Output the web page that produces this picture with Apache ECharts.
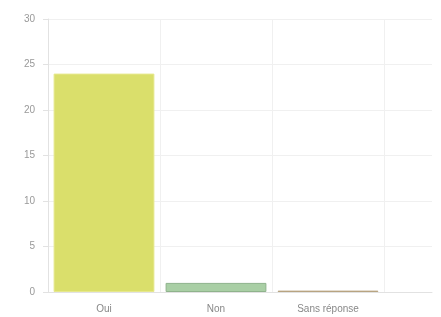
<!DOCTYPE html>
<html>
<head>
<meta charset="utf-8">
<script src="https://cdn.jsdelivr.net/npm/echarts@6/dist/echarts.min.js"></script>
<style>
  html, body { margin: 0; padding: 0; background: #fff; }
  #chart { width: 441px; height: 317px; }
</style>
</head>
<body>
<div id="chart"></div>
<script>
// reponses
const categories = ['Oui', 'Non', 'Sans réponse']
const counts = [24, 1, 0.15]
const barColors = ['#dadf6b', '#a9cfa5', '#cdbf9e']
const borderColors = ['#e6e88c', '#8fb38c', '#b8a582']
const yTicks = { min: 0, max: 30, interval: 5 }

const chart = echarts.init(document.getElementById('chart'))

const labelStyle = {
  color: '#999',
  fontFamily: 'Liberation Sans',
  fontSize: 10,
}

chart.setOption({
  animation: false,
  grid: [
    { left: 48, right: 57, top: 19, bottom: 25 },
    { left: 48, right: 9, top: 19, bottom: 25 },
  ],
  xAxis: [
    {
      type: 'category',
      gridIndex: 0,
      data: categories,
      axisLine: { show: false },
      axisTick: { show: false },
      axisLabel: { ...labelStyle, color: '#888', margin: 12 },
      splitLine: { show: true, lineStyle: { color: '#f0f0f0' } },
    },
    {
      type: 'value',
      gridIndex: 1,
      show: true,
      axisLine: { show: true, onZero: false, lineStyle: { color: '#e2e2e2' } },
      axisTick: { show: false },
      axisLabel: { show: false },
      splitLine: { show: false },
    },
  ],
  yAxis: [
    {
      type: 'value',
      gridIndex: 0,
      min: yTicks.min,
      max: yTicks.max,
      interval: yTicks.interval,
      axisLine: { show: true, lineStyle: { color: '#e2e2e2' } },
      axisTick: { show: true, length: 5, lineStyle: { color: '#e2e2e2' } },
      axisLabel: { ...labelStyle, margin: 13 },
      splitLine: { show: false },
    },
    {
      type: 'value',
      gridIndex: 1,
      min: yTicks.min,
      max: yTicks.max,
      interval: yTicks.interval,
      axisLine: { show: false },
      axisTick: { show: false },
      axisLabel: { show: false },
      splitLine: { show: true, lineStyle: { color: '#f0f0f0' } },
    },
  ],
  series: [
    {
      type: 'bar',
      xAxisIndex: 0,
      yAxisIndex: 0,
      barCategoryGap: '10%',
      data: counts.map((v, i) => ({
        value: v,
        itemStyle: { color: barColors[i], borderColor: borderColors[i], borderWidth: 1 },
      })),
    },
  ],
})
</script>
</body>
</html>
